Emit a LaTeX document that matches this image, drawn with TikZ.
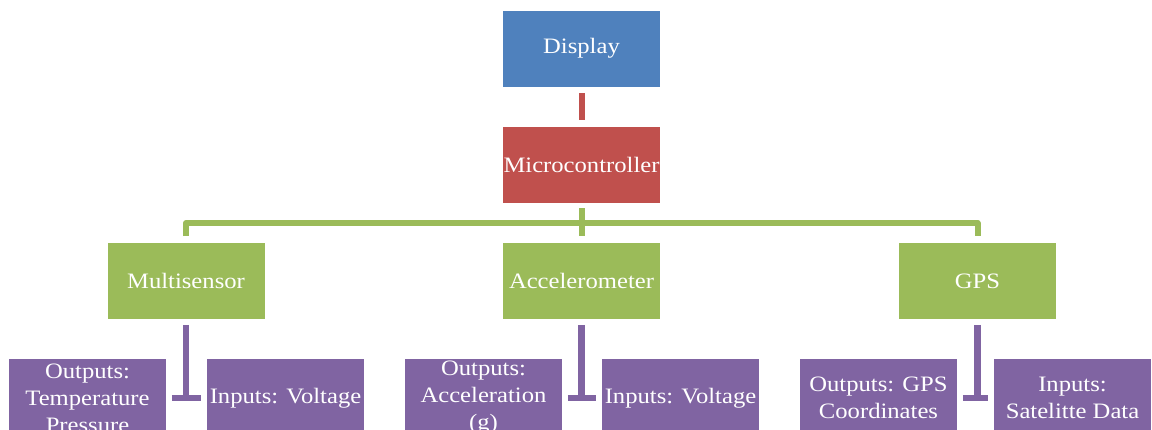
\documentclass[tikz,border=0pt]{standalone}
\usepackage{fontspec}
\setmainfont{Liberation Serif}[FakeStretch=1.12]
\definecolor{cblue}{HTML}{4F81BD}
\definecolor{cred}{HTML}{C0504D}
\definecolor{cgreen}{HTML}{9BBB59}
\definecolor{cpurple}{HTML}{8064A2}
\tikzset{
  box/.style={draw=white, line width=0.8pt, minimum width=158pt, minimum height=77pt,
    inner sep=0pt, align=center, text=white, font=\fontsize{22}{27}\selectfont},
  bluebox/.style={box, fill=cblue},
  redbox/.style={box, fill=cred},
  greenbox/.style={box, fill=cgreen},
  purplebox/.style={box, fill=cpurple, minimum height=80pt},
  redline/.style={draw=cred, line width=6pt},
  greenline/.style={draw=cgreen, line width=6pt},
  purpleline/.style={draw=cpurple, line width=6.5pt},
}
\begin{document}
\begin{tikzpicture}[x=1pt, y=-1pt]
\useasboundingbox (0,0) rectangle (1152,430);
% top chain
\node[bluebox] (disp) at (581.5,48.5) {Display};
\node[redbox] (micro) at (581.5,164.5) {Microcontroller};
% sensors
\node[greenbox] (multi) at (186,281) {Multisensor};
\node[greenbox] (accel) at (581.5,281) {Accelerometer};
\node[greenbox] (gps) at (977.5,281) {GPS};
% purple boxes
\node[purplebox] (msout) at (87.5,398) {Outputs:\\Temperature\\Pressure};
\node[purplebox] (msin) at (285.5,398) {Inputs: Voltage};
\node[purplebox] (acout) at (483.5,398) {Outputs:\\Acceleration\\(g)};
\node[purplebox] (acin) at (680.5,398) {Inputs: Voltage};
\node[purplebox] (gpsout) at (878.5,398) {Outputs: GPS\\Coordinates};
\node[purplebox] (gpsin) at (1072.5,398) {Inputs:\\Satelitte Data};
\coordinate (bus) at (581.5,223);
% connectors
\draw[redline, shorten <=6pt, shorten >=6pt] (disp) -- (micro);
\draw[greenline, shorten <=5pt, shorten >=6pt] (micro) -- (accel);
\draw[greenline, line join=round, shorten <=6pt, shorten >=6pt] (multi.north) |- (bus) -| (gps.north);
\draw[purpleline, shorten <=5pt] (multi.south) -- (multi.south |- msout.east);
\draw[purpleline, shorten <=5pt, shorten >=5pt] (msout.east) -- (msin.west);
\draw[purpleline, shorten <=5pt] (accel.south) -- (accel.south |- acout.east);
\draw[purpleline, shorten <=5pt, shorten >=5pt] (acout.east) -- (acin.west);
\draw[purpleline, shorten <=5pt] (gps.south) -- (gps.south |- gpsout.east);
\draw[purpleline, shorten <=5pt, shorten >=5pt] (gpsout.east) -- (gpsin.west);
\end{tikzpicture}
\end{document}
